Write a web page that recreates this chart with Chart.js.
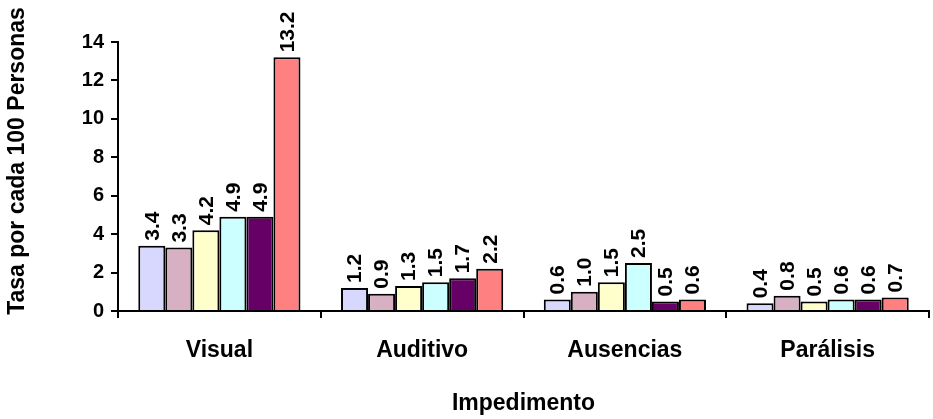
<!DOCTYPE html>
<html>
<head>
<meta charset="utf-8">
<script src="https://cdn.jsdelivr.net/npm/chart.js@4"></script>
<style>
  html, body { margin: 0; padding: 0; background: #fff; }
</style>
</head>
<body>
<canvas id="grafica" width="933" height="419"></canvas>
<script>
// categorias y valores
const impedimentos = ['Visual', 'Auditivo', 'Ausencias', 'Parálisis'];
const serie1 = [3.4, 1.2, 0.6, 0.4];
const serie2 = [3.3, 0.9, 1.0, 0.8];
const serie3 = [4.2, 1.3, 1.5, 0.5];
const serie4 = [4.9, 1.5, 2.5, 0.6];
const serie5 = [4.9, 1.7, 0.5, 0.6];
const serie6 = [13.2, 2.2, 0.6, 0.7];
const colores = ['#d8d8ff', '#d8b0c4', '#ffffcc', '#ccffff', '#660066', '#ff8080'];
const tituloY = 'Tasa por cada 100 Personas';

const fuente = '"Liberation Sans", Arial, sans-serif';

// etiquetas verticales encima de cada barra + titulo del eje y
const etiquetas = {
  id: 'etiquetas',
  afterDatasetsDraw(chart) {
    const ctx = chart.ctx;
    ctx.save();
    ctx.font = 'bold 21px ' + fuente;
    ctx.fillStyle = '#000';
    ctx.textAlign = 'left';
    ctx.textBaseline = 'middle';
    chart.data.datasets.forEach((ds, i) => {
      chart.getDatasetMeta(i).data.forEach((bar, j) => {
        ctx.save();
        ctx.translate(bar.x + 1, bar.y - 5);
        ctx.rotate(-Math.PI / 2);
        ctx.fillText(ds.data[j].toFixed(1), 0, 0);
        ctx.restore();
      });
    });
    // titulo del eje y, un poco mas arriba que el centro del area
    ctx.font = 'bold 23px ' + fuente;
    ctx.textAlign = 'center';
    ctx.translate(18, 161);
    ctx.rotate(-Math.PI / 2);
    ctx.fillText(tituloY, 0, 0);
    ctx.restore();
  }
};

const series = [serie1, serie2, serie3, serie4, serie5, serie6];

new Chart(document.getElementById('grafica'), {
  type: 'bar',
  data: {
    labels: impedimentos,
    datasets: series.map((s, i) => ({
      label: 'Serie ' + (i + 1),
      data: s,
      backgroundColor: colores[i],
      borderColor: '#000',
      borderWidth: 2,
      borderSkipped: 'bottom'
    }))
  },
  options: {
    responsive: false,
    animation: false,
    categoryPercentage: 0.8,
    barPercentage: 1.0,
    layout: { padding: { top: 42, right: 4, left: 0, bottom: 0 } },
    plugins: {
      legend: { display: false },
      tooltip: { enabled: false }
    },
    scales: {
      x: {
        afterFit: s => { s.height = 108; },
        grid: { drawOnChartArea: false, color: '#000', lineWidth: 2, tickLength: 7, offset: true },
        border: { color: '#000', width: 2 },
        ticks: { color: '#000', font: { family: fuente, size: 23, weight: 'bold' }, padding: 19 },
        title: { display: true, text: 'Impedimento', color: '#000', font: { family: fuente, size: 23, weight: 'bold' }, padding: { top: 0, bottom: 2 } }
      },
      y: {
        min: 0,
        max: 14,
        afterFit: s => { s.width = 118; },
        grid: { drawOnChartArea: false, color: '#000', lineWidth: 2, tickLength: 7 },
        border: { color: '#000', width: 2 },
        ticks: { stepSize: 2, color: '#000', font: { family: fuente, size: 20, weight: 'bold' }, padding: 7 }
      }
    }
  },
  plugins: [etiquetas]
});
</script>
</body>
</html>
